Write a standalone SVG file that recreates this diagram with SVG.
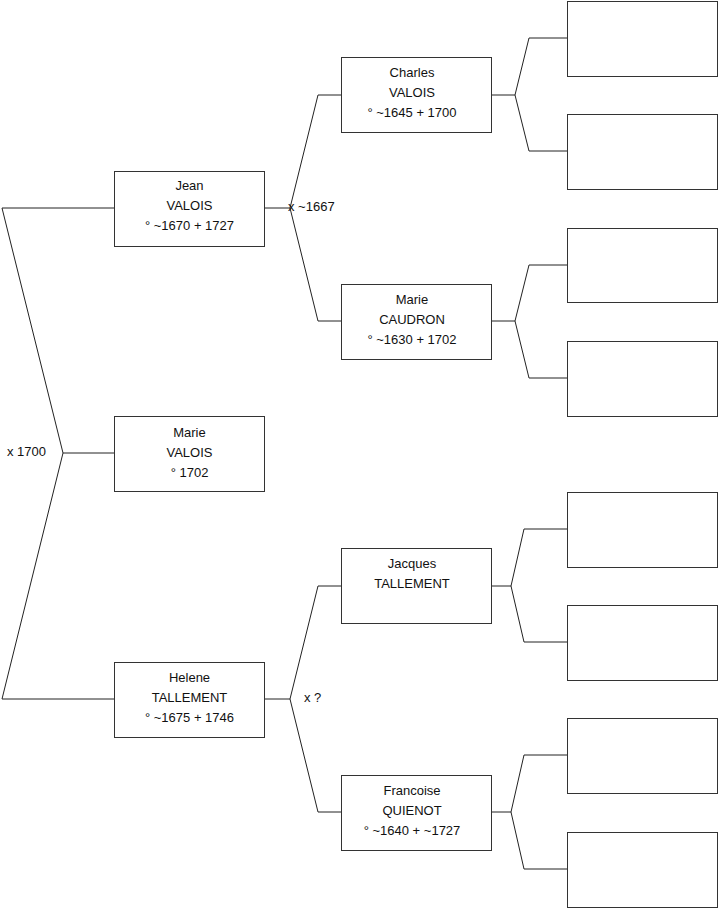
<svg xmlns="http://www.w3.org/2000/svg" width="719" height="908" viewBox="0 0 719 908">
<style>
.box{fill:#fff;stroke:#333;stroke-width:1}
.ln{fill:none;stroke:#222;stroke-width:1}
text{font-family:"Liberation Sans",Arial,sans-serif;font-size:13px;fill:#111;stroke:none;text-anchor:middle}
.lbl{text-anchor:start}
</style>
<rect width="719" height="908" fill="#fff"/>
<g id="connectors">
<g class="ln">
<polyline points="114,453 63,453"/>
<polyline points="114,208 2,208 63,453 2,699 114,699"/>
<polyline points="265,208 290,208"/>
<polyline points="341,95 318,95 290,208 318,321 341,321"/>
<polyline points="265,699 290,699"/>
<polyline points="341,586 318,586 290,699 318,812 341,812"/>
<polyline points="491,95 515,95"/>
<polyline points="567,38 529,38 515,95 529,151 567,151"/>
<polyline points="491,321 515,321"/>
<polyline points="567,265 529,265 515,321 529,378 567,378"/>
<polyline points="491,586 511,586"/>
<polyline points="567,529 524,529 511,586 524,642 567,642"/>
<polyline points="491,812 511,812"/>
<polyline points="567,755 524,755 511,812 524,869 567,869"/>
</g>
<text class="lbl" x="7" y="456">x 1700</text>
<text class="lbl" x="288" y="211">x ~1667</text>
<text class="lbl" x="304" y="702">x ?</text>
</g>
<g id="jean"><rect class="box" x="114.5" y="171.5" width="150" height="75"/><text x="189.5" y="190">Jean</text><text x="189.5" y="210">VALOIS</text><text x="189.5" y="230">° ~1670 + 1727</text></g>
<g id="marie-valois"><rect class="box" x="114.5" y="416.5" width="150" height="75"/><text x="189.5" y="437">Marie</text><text x="189.5" y="457">VALOIS</text><text x="189.5" y="477">° 1702</text></g>
<g id="helene"><rect class="box" x="114.5" y="662.5" width="150" height="75"/><text x="189.5" y="682">Helene</text><text x="189.5" y="702">TALLEMENT</text><text x="189.5" y="722">° ~1675 + 1746</text></g>
<g id="charles"><rect class="box" x="341.5" y="57.5" width="150" height="75"/><text x="412" y="77">Charles</text><text x="412" y="97">VALOIS</text><text x="412" y="117">° ~1645 + 1700</text></g>
<g id="marie-caudron"><rect class="box" x="341.5" y="284.5" width="150" height="75"/><text x="412" y="304">Marie</text><text x="412" y="324">CAUDRON</text><text x="412" y="344">° ~1630 + 1702</text></g>
<g id="jacques"><rect class="box" x="341.5" y="548.5" width="150" height="75"/><text x="412" y="568">Jacques</text><text x="412" y="588">TALLEMENT</text></g>
<g id="francoise"><rect class="box" x="341.5" y="775.5" width="150" height="75"/><text x="412" y="795">Francoise</text><text x="412" y="815">QUIENOT</text><text x="412" y="835">° ~1640 + ~1727</text></g>
<g id="p1"><rect class="box" x="567.5" y="1.5" width="150" height="75"/></g>
<g id="p2"><rect class="box" x="567.5" y="114.5" width="150" height="75"/></g>
<g id="p3"><rect class="box" x="567.5" y="228.5" width="150" height="74"/></g>
<g id="p4"><rect class="box" x="567.5" y="341.5" width="150" height="75"/></g>
<g id="p5"><rect class="box" x="567.5" y="492.5" width="150" height="75"/></g>
<g id="p6"><rect class="box" x="567.5" y="605.5" width="150" height="75"/></g>
<g id="p7"><rect class="box" x="567.5" y="718.5" width="150" height="75"/></g>
<g id="p8"><rect class="box" x="567.5" y="832.5" width="150" height="75"/></g>
</svg>
